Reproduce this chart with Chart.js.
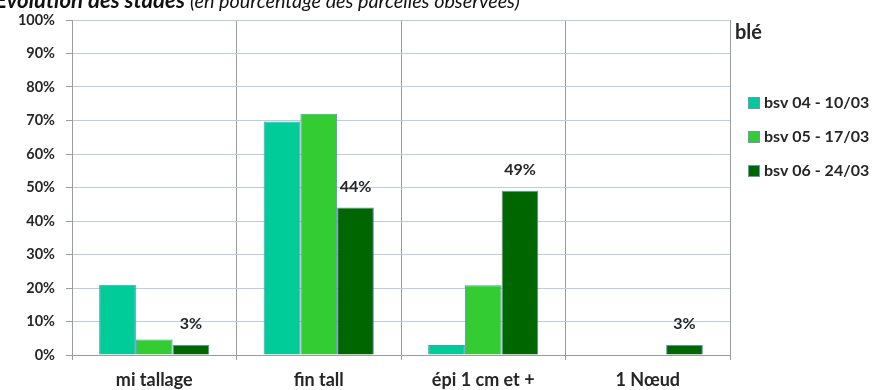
<!DOCTYPE html>
<html>
<head>
<meta charset="utf-8">
<script src="https://cdn.jsdelivr.net/npm/chart.js@4/dist/chart.umd.min.js"></script>
<style>
  html, body { margin: 0; padding: 0; background: #ffffff; }
  #wrap { width: 882px; height: 390px; position: relative; }
</style>
</head>
<body>
<div id="wrap"><canvas id="c" width="882" height="390"></canvas></div>
<script>
// Stades du blé, en % des parcelles observées
const stades = ['mi tallage', 'fin tall', 'épi 1 cm et +', '1 Nœud'];
const bsv04 = [21, 69.7, 3, 0];
const bsv05 = [4.6, 72, 20.8, 0];
const bsv06 = [3, 44, 49, 3];
const seriesNames = ['bsv 04 - 10/03', 'bsv 05 - 17/03', 'bsv 06 - 24/03'];
const yTicks = [0, 10, 20, 30, 40, 50, 60, 70, 80, 90, 100];
const culture = 'blé';
const titreGras = 'Évolution des stades';
const titreItalique = '(en pourcentage des parcelles observées)';

const colors = ['#00cc99', '#33cc33', '#006600'];
const FONT = 'Lato, "Open Sans", sans-serif';
const TEXT = '#262626';

// Fit a font size so the text spans the requested width
function fitFont(ctx, text, style, width) {
  ctx.font = style + ' 20px ' + FONT;
  const w = ctx.measureText(text).width;
  return 20 * width / w;
}

// Title strip (partly above the canvas edge), legend on the right, value labels on the last series
const decor = {
  id: 'decor',
  afterDatasetsDraw(chart) {
    const ctx = chart.ctx;
    ctx.save();
    const meta = chart.getDatasetMeta(2);
    ctx.font = 'bold 16px ' + FONT;
    ctx.fillStyle = TEXT;
    ctx.textAlign = 'center';
    ctx.textBaseline = 'middle';
    meta.data.forEach((bar, i) => {
      const v = bsv06[i];
      if (v > 0) ctx.fillText(Math.round(v) + '%', bar.x, bar.y - 21);
    });
    ctx.restore();
  },
  afterDraw(chart) {
    const ctx = chart.ctx;
    ctx.save();
    // title
    ctx.textBaseline = 'alphabetic';
    ctx.textAlign = 'left';
    ctx.fillStyle = '#111';
    const s1 = fitFont(ctx, titreGras, 'italic bold', 190);
    ctx.font = 'italic bold ' + s1 + 'px ' + FONT;
    ctx.fillText(titreGras, -5, 8);
    const s2 = fitFont(ctx, titreItalique, 'italic', 330);
    ctx.font = 'italic ' + s2 + 'px ' + FONT;
    ctx.fillText(titreItalique, 190, 8);

    // legend
    ctx.fillStyle = TEXT;
    ctx.font = 'bold 20px ' + FONT;
    ctx.textBaseline = 'middle';
    ctx.fillText(culture, 735, 33);
    ctx.font = 'bold 16px ' + FONT;
    const ys = [103, 137, 171];
    seriesNames.forEach((name, i) => {
      ctx.fillStyle = colors[i];
      ctx.fillRect(748.5, ys[i] - 5.5, 11, 11);
      ctx.strokeStyle = '#6f96c0';
      ctx.lineWidth = 1;
      ctx.strokeRect(748.5, ys[i] - 5.5, 11, 11);
      ctx.fillStyle = TEXT;
      ctx.fillText(name, 764, ys[i]);
    });
    ctx.restore();
  }
};

new Chart(document.getElementById('c'), {
  type: 'bar',
  data: {
    labels: stades,
    datasets: [bsv04, bsv05, bsv06].map((d, i) => ({
      label: seriesNames[i],
      data: d,
      backgroundColor: colors[i],
      borderColor: '#5f8fbf',
      borderWidth: 1,
      categoryPercentage: 0.67,
      barPercentage: 1
    }))
  },
  options: {
    responsive: false,
    animation: false,
    layout: { padding: { top: 20, right: 152, left: 0, bottom: 0 } },
    plugins: {
      legend: { display: false },
      tooltip: { enabled: false },
      title: { display: false }
    },
    scales: {
      x: {
        afterFit(scale) { scale.height = 35; },
        grid: {
          offset: true,
          color: '#9c9c9c',
          tickColor: '#9c9c9c',
          tickLength: 5,
          lineWidth: 1
        },
        border: { color: '#9c9c9c' },
        ticks: {
          font: { family: FONT, size: 18, weight: 'bold' },
          color: TEXT,
          padding: 9
        }
      },
      y: {
        min: 0,
        max: 100,
        afterFit(scale) { scale.width = 72; },
        afterBuildTicks(scale) { scale.ticks = yTicks.map(v => ({ value: v })); },
        grid: {
          color: '#b9cde5',
          tickColor: '#9c9c9c',
          tickLength: 6
        },
        border: { color: '#9c9c9c' },
        ticks: {
          font: { family: FONT, size: 14.5, weight: 'bold' },
          color: TEXT,
          padding: 11,
          callback: v => v + '%'
        }
      }
    }
  },
  plugins: [decor]
});
</script>
</body>
</html>
